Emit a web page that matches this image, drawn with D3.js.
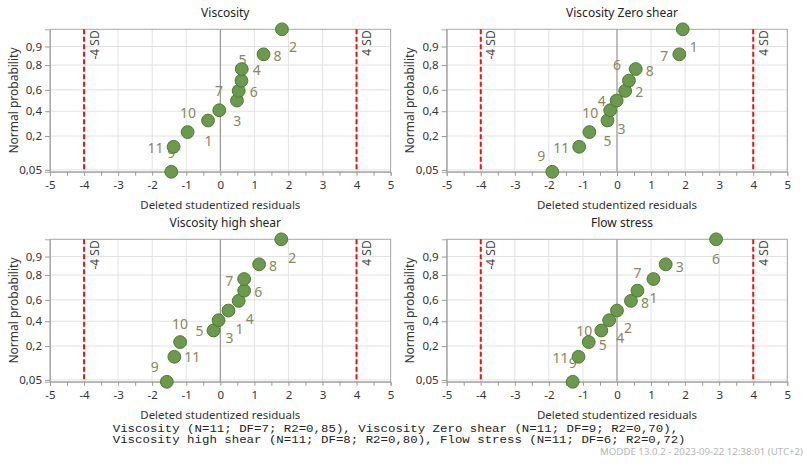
<!DOCTYPE html>
<html>
<head>
<meta charset="utf-8">
<script src="https://cdn.jsdelivr.net/npm/d3@7"></script>
<style>
  html, body { margin: 0; padding: 0; background: #fff; }
  svg { display: block; }
</style>
</head>
<body>
<svg id="chart" width="807" height="464"></svg>
<script>
// ---------------- DATA ----------------
const panelTitles = ["Viscosity", "Viscosity Zero shear", "Viscosity high shear", "Flow stress"];

// normal-probability plotting positions (ascending)
const probPositions = [0.0455, 0.1364, 0.2273, 0.3182, 0.4091, 0.5, 0.5909, 0.6818, 0.7727, 0.8636, 0.9545];

// deleted studentized residuals, sorted ascending, and their observation numbers
const viscosityResiduals = [-1.44, -1.37, -0.96, -0.36, -0.03, 0.49, 0.54, 0.62, 0.63, 1.27, 1.81];
const viscosityObs       = ["9", "11", "1", "10", "3", "7", "6", "5", "4", "8", "2"];

const zeroShearResiduals = [-1.90, -1.11, -0.81, -0.28, -0.20, -0.01, 0.24, 0.35, 0.55, 1.83, 1.93];
const zeroShearObs       = ["9", "11", "5", "3", "10", "4", "2", "6", "8", "7", "1"];

const highShearResiduals = [-1.57, -1.35, -1.18, -0.20, -0.05, 0.24, 0.54, 0.70, 0.70, 1.14, 1.79];
const highShearObs       = ["9", "11", "10", "5", "3", "1", "4", "6", "7", "8", "2"];

const flowStressResiduals = [-1.30, -1.13, -0.83, -0.46, -0.23, 0.00, 0.41, 0.60, 1.07, 1.43, 2.91];
const flowStressObs       = ["9", "11", "5", "10", "4", "2", "8", "1", "7", "3", "6"];

const xTickValues = [-5, -4, -3, -2, -1, 0, 1, 2, 3, 4, 5];
const xMinorTickValues = [-5, -4.5, -4, -3.5, -3, -2.5, -2, -1.5, -1, -0.5, 0, 0.5, 1, 1.5, 2, 2.5, 3, 3.5, 4, 4.5, 5];
const yTickValues = [0.05, 0.2, 0.4, 0.6, 0.8, 0.9];
const sdLimits = [-4, 4];
const sdLabels = ["-4 SD", "4 SD"];

const xAxisTitle = "Deleted studentized residuals";
const yAxisTitle = "Normal probability";
const footnoteLines = [
  "Viscosity (N=11; DF=7; R2=0,85), Viscosity Zero shear (N=11; DF=9; R2=0,70),",
  "Viscosity high shear (N=11; DF=8; R2=0,80), Flow stress (N=11; DF=6; R2=0,72)"
];
const watermark = "MODDE 13.0.2 - 2023-09-22 12:38:01 (UTC+2)";

// ---------------- LAYOUT (label placement offsets in px) ----------------
const labelOffsets = [
  [[0,-19],[-18,1],[21,8],[-20,-8],[18,10],[-18,-10],[15,1],[1,-21],[15,0],[14,1],[11,17]],
  [[-11,-16],[-18,1],[18,8],[14,8],[-20,2],[-15,0],[14,1],[-12,-16],[14,1],[-15,1],[11,17]],
  [[-12,-15],[18,0],[0,-19],[-14,0],[11,17],[11,18],[11,18],[14,1],[-15,1],[14,1],[11,18]],
  [[0,-19],[-18,1],[14,2],[-17,0],[11,17],[11,17],[14,2],[16,7],[-16,-7],[14,2],[0,19]]
];

const panels = [
  { title: panelTitles[0], res: viscosityResiduals,  obs: viscosityObs,  left: 50,    top: 29.3 },
  { title: panelTitles[1], res: zeroShearResiduals,  obs: zeroShearObs,  left: 446.7, top: 29.3 },
  { title: panelTitles[2], res: highShearResiduals,  obs: highShearObs,  left: 50,    top: 239.3 },
  { title: panelTitles[3], res: flowStressResiduals, obs: flowStressObs, left: 446.7, top: 239.3 }
];
const plotW = 340.6, plotH = 142.5;

// inverse standard normal CDF (Acklam)
function probit(p) {
  const a=[-3.969683028665376e+01,2.209460984245205e+02,-2.759285104469687e+02,1.383577518672690e+02,-3.066479806614716e+01,2.506628277459239e+00];
  const b=[-5.447609879822406e+01,1.615858368580409e+02,-1.556989798598866e+02,6.680131188771972e+01,-1.328068155288572e+01];
  const c=[-7.784894002430293e-03,-3.223964580411365e-01,-2.400758277161838e+00,-2.549732539343734e+00,4.374664141464968e+00,2.938163982698783e+00];
  const d=[7.784695709041462e-03,3.224671290700398e-01,2.445134137142996e+00,3.754408661907416e+00];
  const plow = 0.02425, phigh = 1 - plow;
  let q, r;
  if (p < plow) { q = Math.sqrt(-2*Math.log(p)); return (((((c[0]*q+c[1])*q+c[2])*q+c[3])*q+c[4])*q+c[5])/((((d[0]*q+d[1])*q+d[2])*q+d[3])*q+1); }
  if (p > phigh) { q = Math.sqrt(-2*Math.log(1-p)); return -(((((c[0]*q+c[1])*q+c[2])*q+c[3])*q+c[4])*q+c[5])/((((d[0]*q+d[1])*q+d[2])*q+d[3])*q+1); }
  q = p - 0.5; r = q*q;
  return (((((a[0]*r+a[1])*r+a[2])*r+a[3])*r+a[4])*r+a[5])*q/(((((b[0]*r+b[1])*r+b[2])*r+b[3])*r+b[4])*r+1);
}

const FONT = "'Segoe UI', 'Noto Sans', sans-serif";
const svg = d3.select("#chart");
svg.append("rect").attr("width", 807).attr("height", 464).attr("fill", "#fff");

panels.forEach((pn, pi) => {
  const g = svg.append("g").attr("transform", `translate(${pn.left},${pn.top})`);
  const x = d3.scaleLinear().domain([-5, 5]).range([0, plotW]);
  const zScale = d3.scaleLinear()
    .domain([probit(d3.min(probPositions)), probit(d3.max(probPositions))])
    .range([plotH, 0]);
  const y = p => zScale(probit(p));

  // gridlines
  g.append("g").selectAll("line.vg").data(xTickValues).join("line")
    .attr("x1", d => x(d)).attr("x2", d => x(d)).attr("y1", 0).attr("y2", plotH)
    .attr("stroke", "#e2e2e2").attr("stroke-width", 1);
  g.append("g").selectAll("line.hg").data(yTickValues).join("line")
    .attr("x1", 0).attr("x2", plotW).attr("y1", d => y(d)).attr("y2", d => y(d))
    .attr("stroke", "#e2e2e2").attr("stroke-width", 1);
  // zero line
  g.append("line").attr("x1", x(0)).attr("x2", x(0)).attr("y1", 0).attr("y2", plotH)
    .attr("stroke", "#8a8a8a").attr("stroke-width", 1);
  // border
  g.append("rect").attr("x", 0).attr("y", 0).attr("width", plotW).attr("height", plotH)
    .attr("fill", "none").attr("stroke", "#a8a8a8").attr("stroke-width", 1);

  // x axis
  const xAxis = d3.axisBottom(x).tickValues(xMinorTickValues).tickSize(4).tickPadding(5)
    .tickFormat(d => Number.isInteger(d) ? String(d) : "");
  const xa = g.append("g").attr("transform", `translate(0,${plotH})`).call(xAxis);
  xa.select(".domain").attr("stroke", "#a8a8a8");
  xa.selectAll(".tick line").attr("stroke", "#9a9a9a");
  xa.selectAll(".tick text").attr("fill", "#333").style("font-family", FONT).style("font-size", "11.5px");

  // y axis
  const yAxis = d3.axisLeft(d3.scaleLinear().domain(zScale.domain()).range(zScale.range()))
    .tickValues(yTickValues.map(probit)).tickSize(5).tickPadding(3)
    .tickFormat((d, i) => String(yTickValues[i]).replace(".", ","));
  const ya = g.append("g").call(yAxis);
  ya.select(".domain").attr("stroke", "#a8a8a8");
  ya.selectAll(".tick line").attr("stroke", "#9a9a9a");
  ya.selectAll(".tick text").attr("fill", "#333").style("font-family", FONT).style("font-size", "11.5px");

  // SD limit lines
  sdLimits.forEach((v, k) => {
    g.append("line").attr("x1", x(v)).attr("x2", x(v)).attr("y1", 0).attr("y2", plotH)
      .attr("stroke", "#ee1111").attr("stroke-width", 2).attr("stroke-dasharray", "5,2.5");
    g.append("text")
      .attr("transform", `translate(${x(v) + 10},1) rotate(-90)`)
      .attr("text-anchor", "end").attr("dominant-baseline", "central")
      .attr("fill", "#444").style("font-family", FONT).style("font-size", "12px")
      .text(sdLabels[k]);
  });

  // labels (drawn beneath points)
  g.append("g").selectAll("text").data(pn.res).join("text")
    .attr("x", (d, i) => x(d) + labelOffsets[pi][i][0])
    .attr("y", (d, i) => y(probPositions[i]) + labelOffsets[pi][i][1])
    .attr("text-anchor", "middle").attr("dominant-baseline", "central")
    .attr("fill", "#8a875c").style("font-family", FONT).style("font-size", "14px")
    .text((d, i) => pn.obs[i]);

  // points
  g.append("g").selectAll("circle").data(pn.res).join("circle")
    .attr("cx", d => x(d)).attr("cy", (d, i) => y(probPositions[i])).attr("r", 6.4)
    .attr("fill", "#6b9a4c").attr("stroke", "#4c7a34").attr("stroke-width", 1);

  // titles
  g.append("text").attr("x", plotW / 2 + 5).attr("y", -16.5)
    .attr("text-anchor", "middle").attr("dominant-baseline", "central")
    .attr("fill", "#222").style("font-family", FONT).style("font-size", "12px")
    .text(pn.title);
  g.append("text").attr("x", plotW / 2).attr("y", plotH + 32.5)
    .attr("text-anchor", "middle").attr("dominant-baseline", "central")
    .attr("fill", "#333").style("font-family", FONT).style("font-size", "11.5px")
    .text(xAxisTitle);
  g.append("text")
    .attr("transform", `translate(-37,${plotH / 2}) rotate(-90)`)
    .attr("text-anchor", "middle").attr("dominant-baseline", "central")
    .attr("fill", "#333").style("font-family", FONT).style("font-size", "12px")
    .text(yAxisTitle);
});

// footnote
svg.append("g").selectAll("text").data(footnoteLines).join("text")
  .attr("x", 112.7).attr("y", (d, i) => 432 + i * 11)
  .attr("textLength", d => d.length * 7.44).attr("lengthAdjust", "spacingAndGlyphs")
  .attr("fill", "#222").style("font-family", "'Liberation Mono', 'DejaVu Sans Mono', monospace")
  .style("font-size", "10.5px")
  .text(d => d);

// watermark
svg.append("text").attr("x", 803).attr("y", 455)
  .attr("text-anchor", "end").attr("textLength", 203).attr("lengthAdjust", "spacingAndGlyphs")
  .attr("fill", "#b4b4b4").style("font-family", FONT).style("font-size", "9.5px")
  .text(watermark);
</script>
</body>
</html>
